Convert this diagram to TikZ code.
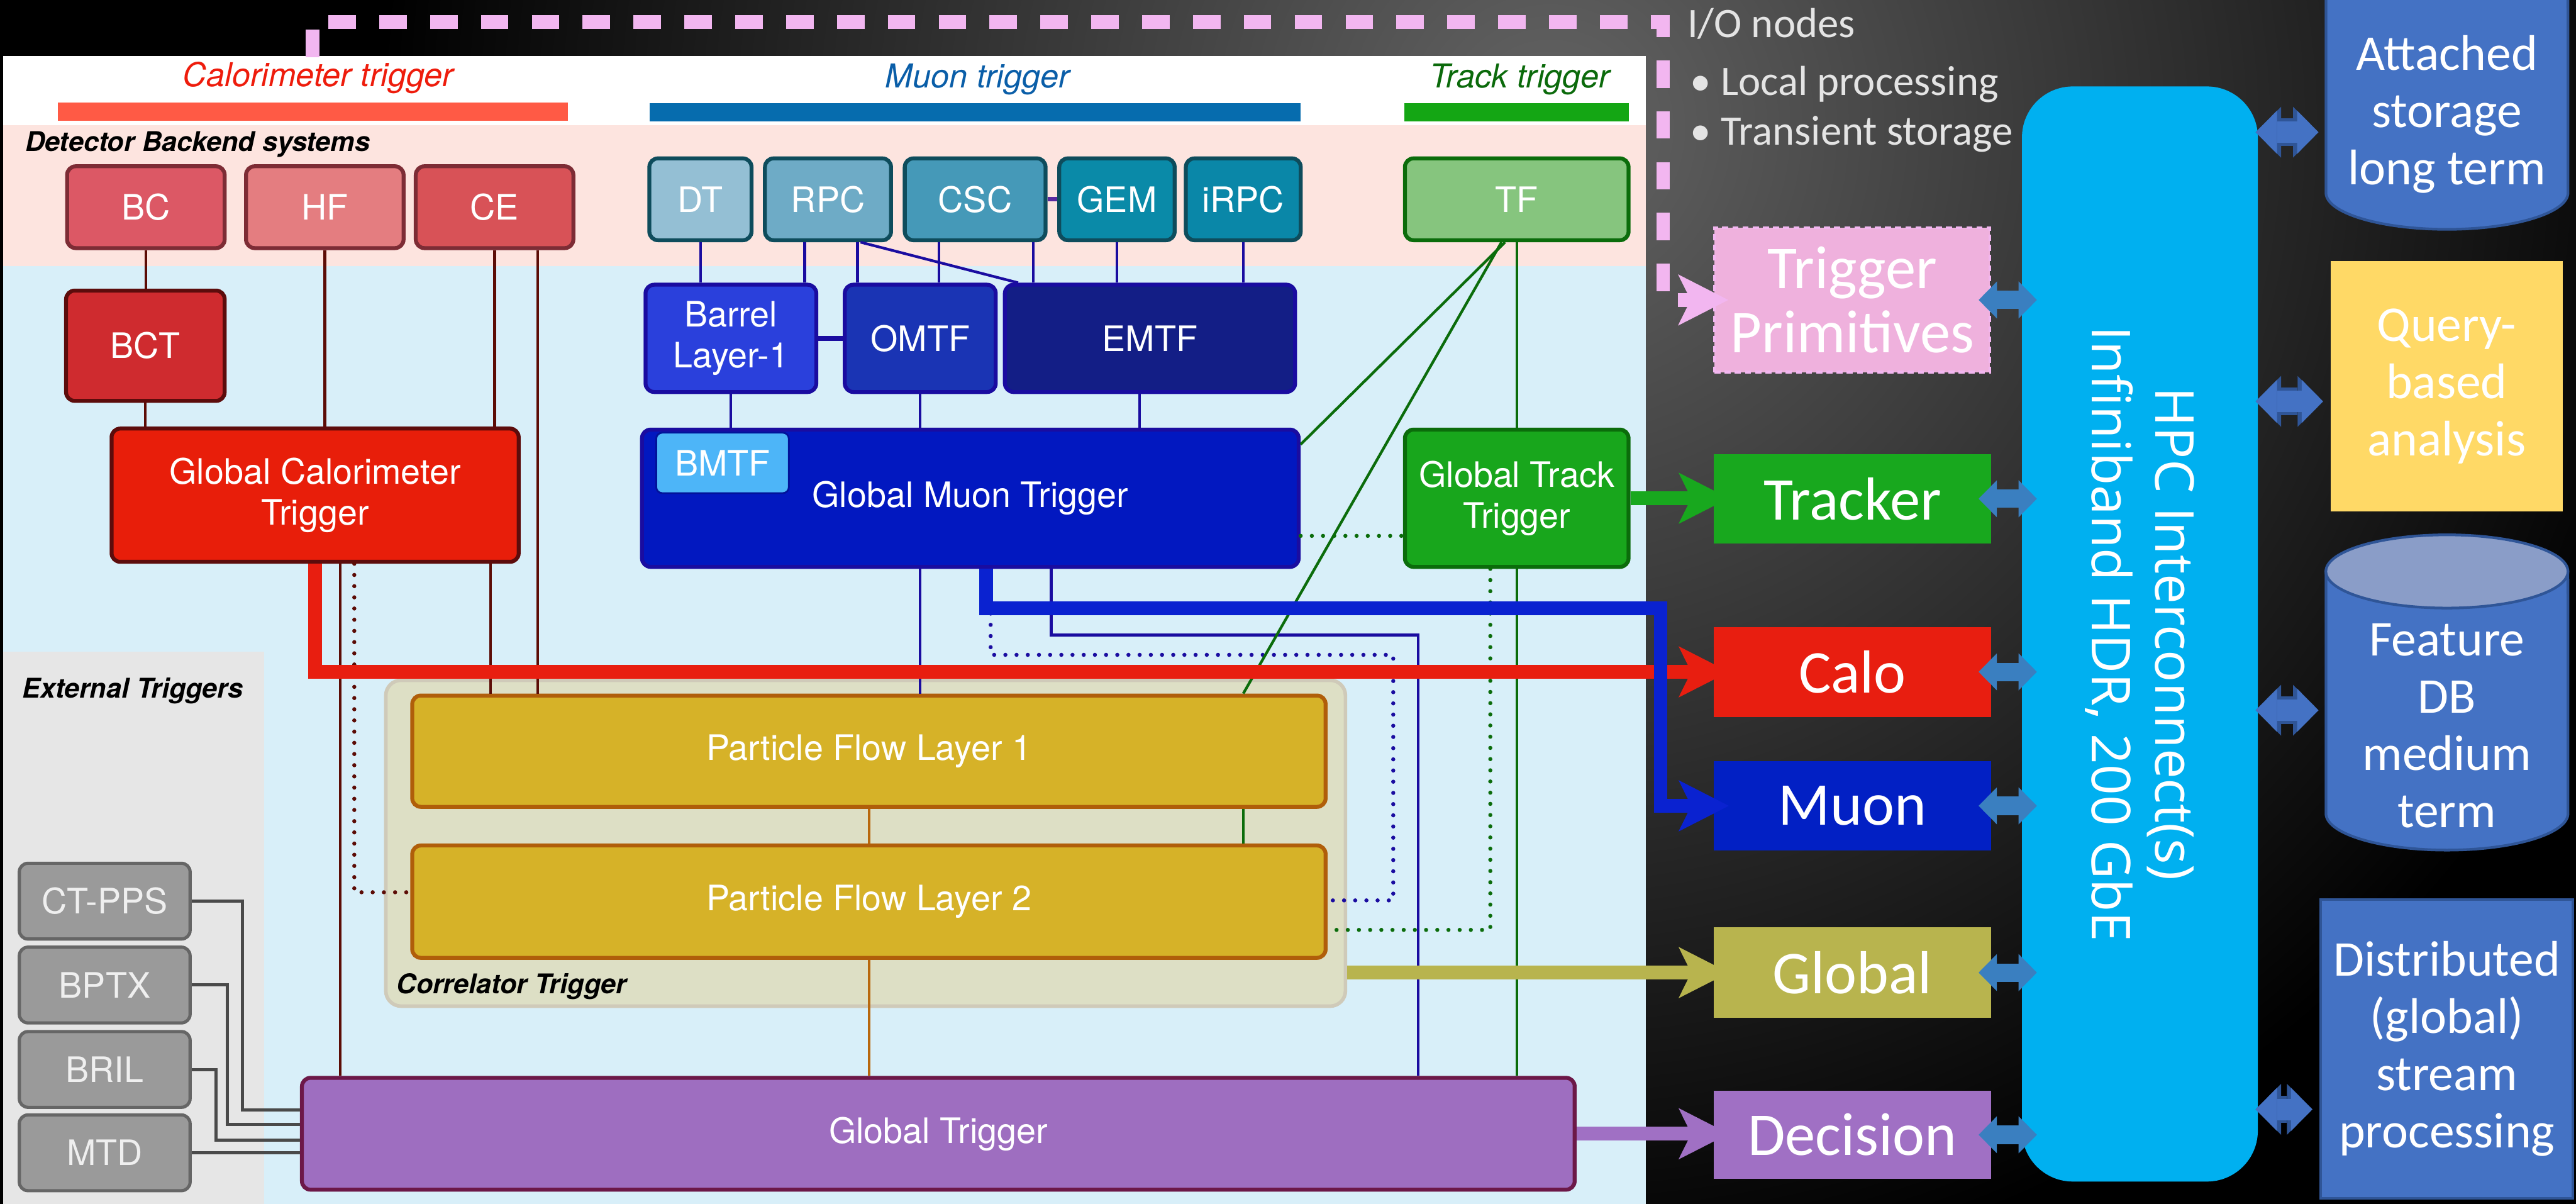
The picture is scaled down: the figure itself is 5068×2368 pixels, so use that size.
\documentclass[tikz,border=0pt]{standalone}
\usepackage{fontspec}
\setmainfont{TeX Gyre Heros}
\newfontfamily\iofont{Carlito}
\newfontfamily\netfont{Open Sans}
\usetikzlibrary{arrows.meta,calc}

% panel and band colours
\definecolor{bandpink}{HTML}{FDE4DF}
\definecolor{bandblue}{HTML}{D8EFF9}
\definecolor{extbg}{HTML}{E6E6E6}
\definecolor{bgglow}{HTML}{646464}
% group headings
\definecolor{calbar}{HTML}{FF5A45}
\definecolor{caltxt}{HTML}{EE1C0C}
\definecolor{muobar}{HTML}{066CAE}
\definecolor{muotxt}{HTML}{0A5EA8}
\definecolor{trkbar}{HTML}{14A614}
\definecolor{trktxt}{HTML}{0B6A0B}
% calorimeter chain
\definecolor{bcfill}{HTML}{DC5865}
\definecolor{hffill}{HTML}{E47D80}
\definecolor{cefill}{HTML}{D85257}
\definecolor{bcline}{HTML}{7D2C35}
\definecolor{bctfill}{HTML}{CF2B2F}
\definecolor{bctline}{HTML}{5C0C0C}
\definecolor{gctfill}{HTML}{E81E0A}
\definecolor{calowire}{HTML}{5C0C06}
% muon chain
\definecolor{dtfill}{HTML}{94BFD4}
\definecolor{rpcfill}{HTML}{6EABC6}
\definecolor{cscfill}{HTML}{4599B8}
\definecolor{gemfill}{HTML}{0A8AA8}
\definecolor{irpcfill}{HTML}{0A87A8}
\definecolor{detline}{HTML}{0E4C5C}
\definecolor{blfill}{HTML}{2A40DC}
\definecolor{omtffill}{HTML}{1A34B4}
\definecolor{emtffill}{HTML}{131E86}
\definecolor{muowire}{HTML}{1A0CA0}
\definecolor{gmtfill}{HTML}{0218C0}
\definecolor{bmtffill}{HTML}{4DB5F8}
\definecolor{linkpurple}{HTML}{5A2AA0}
% track chain
\definecolor{tffill}{HTML}{86C57E}
\definecolor{gttfill}{HTML}{18A61C}
\definecolor{trkwire}{HTML}{0B6C0B}
% correlator and global
\definecolor{corrfill}{HTML}{DDDFC5}
\definecolor{corrline}{HTML}{CFCAB9}
\definecolor{pffill}{HTML}{D6B228}
\definecolor{pfline}{HTML}{B05E0A}
\definecolor{pfwire}{HTML}{B8680E}
\definecolor{gtfill}{HTML}{9E6EC0}
\definecolor{gtline}{HTML}{6C1848}
% external triggers
\definecolor{extfill}{HTML}{9A9A9A}
\definecolor{extline}{HTML}{666666}
\definecolor{exttext}{HTML}{EFEFEF}
\definecolor{extwire}{HTML}{4A4A4A}
% I/O nodes and storage
\definecolor{tpfill}{HTML}{EFB1DD}
\definecolor{pinkline}{HTML}{F2B6F0}
\definecolor{trkio}{HTML}{18A81E}
\definecolor{caloio}{HTML}{E81E10}
\definecolor{muonio}{HTML}{0220C4}
\definecolor{muonfat}{HTML}{0A22D0}
\definecolor{globio}{HTML}{B8B44E}
\definecolor{decio}{HTML}{A070C4}
\definecolor{ldblc}{HTML}{3A7FC0}
\definecolor{hpcfill}{HTML}{00B0F0}
\definecolor{rdb}{HTML}{4472C4}
\definecolor{rdbdk}{HTML}{2F5597}
\definecolor{fdbtop}{HTML}{8A9DC8}
\definecolor{qryfill}{HTML}{FFD966}
\definecolor{iotext}{HTML}{E4E4E4}

\begin{document}
\begin{tikzpicture}[x=0.01cm, y=-0.01cm,
  wh/.style 2 args={minimum width=#1*0.01cm, minimum height=#2*0.01cm},
  box/.style={rectangle, rounded corners=0.17cm, line width=2.2pt, text=white,
    align=center, inner sep=0pt, font=\fontsize{19.6pt}{23pt}\selectfont},
  extbox/.style={box, fill=extfill, draw=extline, text=exttext, line width=1.8pt},
  grp/.style={anchor=base, inner sep=0pt, font=\itshape\fontsize{18.4pt}{22pt}\selectfont},
  sect/.style={anchor=base west, inner sep=0pt, text=black,
    font=\bfseries\itshape\fontsize{15.2pt}{18pt}\selectfont},
  iobox/.style={rectangle, inner sep=0pt, text=white, align=center,
    font=\iofont\fontsize{34pt}{36pt}\selectfont},
  store/.style={rectangle, inner sep=0pt, text=white, align=center,
    font=\iofont\fontsize{28pt}{32pt}\selectfont},
  note/.style={anchor=base west, inner sep=0pt, text=iotext,
    font=\iofont\fontsize{23.5pt}{28pt}\selectfont},
  wire/.style={line width=1.5pt},
  dots/.style={line width=2.3pt, line cap=round, dash pattern=on 0pt off 0.22cm},
  fat/.style={line width=0.27cm, shorten >=-0.3cm,
    -{Stealth[length=0.99cm,width=1.01cm,inset=0.25cm,line width=0pt]}},
  ldbl/.style={draw=ldblc, line width=0.36cm, shorten <=-0.25cm, shorten >=-0.3cm,
    {Triangle[length=0.36cm,width=0.73cm,line width=0pt]}-{Triangle[length=0.36cm,width=0.73cm,line width=0pt]}},
  rdbl/.style={draw=rdb, line width=0.42cm, shorten <=-0.05cm, shorten >=0.14cm,
    {Triangle[length=0.42cm,width=0.85cm,line width=0pt]}-{Triangle[length=0.42cm,width=0.85cm,line width=0pt]},
    preaction={draw=rdbdk, line width=0.54cm,
      {Triangle[length=0.5cm,width=1.0cm,line width=0pt]}-{Triangle[length=0.5cm,width=1.0cm,line width=0pt]}}},
]
\useasboundingbox (0,0) rectangle (5068,2368);

% ---------- dark backdrop with a soft glow ----------
\begin{scope}
  \clip (0,0) rectangle (5068,2368);
  \fill[black] (0,0) rectangle (5068,2368);
  \shade[inner color=bgglow, outer color=black] (3050,250) circle [radius=23cm];
\end{scope}

% ---------- trigger panel ----------
\fill[white]    (6,110) rectangle (3238,246);
\fill[bandpink] (6,246) rectangle (3238,523);
\fill[bandblue] (6,523) rectangle (3238,2368);
\fill[extbg]    (6,1282) rectangle (520,2368);

% group headings
\node[grp, text=caltxt] (calhead) at (626,170) {Calorimeter trigger};
\node[grp, text=muotxt] (muohead) at (1923,172) {Muon trigger};
\node[grp, text=trktxt] (trkhead) at (2990,172) {Track trigger};
\fill[calbar] (114,202) rectangle (1117,238);
\fill[muobar] (1278,203) rectangle (2559,239);
\fill[trkbar] (2763,203) rectangle (3204,239);
\node[sect] (dbs) at (49,298) {Detector Backend systems};
\node[sect] (exthead) at (43,1373) {External Triggers};

% calorimeter chain
\node[box, wh={310}{161}, fill=bcfill,  draw=bcline]  (bc)  at (287,407.5) {BC};
\node[box, wh={310}{161}, fill=hffill,  draw=bcline]  (hf)  at (639,407.5) {HF};
\node[box, wh={310}{161}, fill=cefill,  draw=bcline]  (ce)  at (973,407.5) {CE};
\node[box, wh={312}{217}, fill=bctfill, draw=bctline] (bct) at (286,680) {BCT};
\node[box, wh={801}{262}, fill=gctfill, draw=bctline] (gct) at (620,974) {Global Calorimeter\\Trigger};

% muon chain
\node[box, wh={201}{161}, fill=dtfill,   draw=detline] (dt)   at (1378,392) {DT};
\node[box, wh={248}{161}, fill=rpcfill,  draw=detline] (rpc)  at (1629,392) {RPC};
\node[box, wh={277}{161}, fill=cscfill,  draw=detline] (csc)  at (1918.5,392) {CSC};
\node[box, wh={227}{161}, fill=gemfill,  draw=detline] (gem)  at (2197.5,392) {GEM};
\node[box, wh={226}{161}, fill=irpcfill, draw=detline] (irpc) at (2446,392) {iRPC};
\node[box, wh={336}{211}, fill=blfill,   draw=muowire] (bl1)  at (1438,665.5) {Barrel\\Layer-1};
\node[box, wh={297}{211}, fill=omtffill, draw=muowire] (omtf) at (1810.5,665.5) {OMTF};
\node[box, wh={571}{211}, fill=emtffill, draw=muowire] (emtf) at (2262.5,665.5) {EMTF};
\node[box, wh={1292}{270}, fill=gmtfill, draw=muowire] (gmt)  at (1909,980) {Global Muon Trigger};
\node[box, wh={261}{119}, fill=bmtffill, draw=gmtfill!80!black, line width=1pt,
      rounded corners=0.12cm] (bmtf) at (1421.5,910.5) {BMTF};

% track chain
\node[box, wh={440}{161}, fill=tffill,  draw=trkwire] (tf)  at (2984,392) {TF};
\node[box, wh={440}{270}, fill=gttfill, draw=trkwire] (gtt) at (2984,980) {Global Track\\Trigger};

% correlator
\node[rectangle, rounded corners=0.3cm, wh={1888}{641}, fill=corrfill, draw=corrline,
      line width=2pt] (corr) at (1703,1658.5) {};
\node[sect] (corrhead) at (780,1954) {Correlator Trigger};
\node[box, wh={1797}{219}, fill=pffill, draw=pfline] (pf1) at (1709.5,1477.5) {Particle Flow Layer 1};
\node[box, wh={1797}{221}, fill=pffill, draw=pfline] (pf2) at (1709.5,1773.5) {Particle Flow Layer 2};

% global trigger
\node[box, wh={2504}{220}, fill=gtfill, draw=gtline] (gt) at (1846,2230) {Global Trigger};

% external triggers
\node[extbox, wh={336}{149}] (ctpps) at (206,1772.5) {CT-PPS};
\node[extbox, wh={336}{149}] (bptx)  at (206,1937.5) {BPTX};
\node[extbox, wh={336}{149}] (bril)  at (206,2103.5) {BRIL};
\node[extbox, wh={336}{149}] (mtd)   at (206,2267.5) {MTD};

% ---------- wires ----------
\coordinate (cebyp) at (1058,0);
\coordinate (gcpf)  at (965,0);
\coordinate (gcgt)  at (669,0);
\coordinate (gcdot) at (697,1755);
\begin{scope}[wire, draw=calowire]
  \draw (bc.south)  -- (bc.south |- bct.north);
  \draw (bct.south) -- (bct.south |- gct.north);
  \draw (hf.south)  -- (hf.south |- gct.north);
  \draw (ce.south)  -- (ce.south |- gct.north);
  \draw (cebyp |- ce.south)  -- (cebyp |- pf1.north);
  \draw (gcpf |- gct.south)  -- (gcpf |- pf1.north);
  \draw (gcgt |- gct.south)  -- (gcgt |- gt.north);
\end{scope}
\draw[dots, draw=calowire] (gcdot |- gct.south) -- (gcdot) -- (gcdot -| pf2.west);

\coordinate (r1) at (1583,0);
\coordinate (r2) at (1687,0);
\coordinate (c1) at (1847,0);
\coordinate (c2) at (2033,0);
\coordinate (emd) at (2003,0);
\coordinate (em2) at (2242,0);
\coordinate (gl1) at (2068,1249);
\coordinate (gl2) at (2790,1249);
\coordinate (md1) at (1949,1288);
\coordinate (md2) at (2741,1288);
\coordinate (md3) at (2741,1771);
\begin{scope}[wire, draw=muowire]
  \draw (dt.south) -- (dt.south |- bl1.north);
  \draw (r1 |- rpc.south) -- (r1 |- bl1.north);
  \draw (r2 |- rpc.south) -- (r2 |- omtf.north);
  \draw ([xshift=0.06cm]r2 |- rpc.south) -- (emd |- emtf.north);
  \draw (c1 |- csc.south) -- (c1 |- omtf.north);
  \draw (c2 |- csc.south) -- (c2 |- emtf.north);
  \draw (gem.south) -- (gem.south |- emtf.north);
  \draw (irpc.south) -- (irpc.south |- emtf.north);
  \draw (bl1.south) -- (bl1.south |- gmt.north);
  \draw (omtf.south) -- (omtf.south |- gmt.north);
  \draw (em2 |- emtf.south) -- (em2 |- gmt.north);
  \draw (omtf.south |- gmt.south) -- (omtf.south |- pf1.north);
  \draw (gl1 |- gmt.south) -- (gl1) -- (gl2) -- (gl2 |- gt.north);
\end{scope}
\draw[line width=2.4pt, draw=linkpurple] (csc.east) -- (gem.west);
\draw[line width=3pt, draw=muowire] (bl1.east) -- (omtf.west);
\draw[dots, draw=muowire] (md1 |- gmt.south) -- (md1) -- (md2) -- (md3) -- (md3 -| pf2.east);

\coordinate (t1) at (2961,0);
\coordinate (t2) at (2954,0);
\coordinate (tp1) at (2446,0);
\coordinate (gd0) at (0,1054);
\coordinate (gd1) at (2932,1829);
\begin{scope}[wire, draw=trkwire]
  \draw (tf.south) -- (tf.south |- gtt.north);
  \draw (t1 |- tf.south) -- ([yshift=-0.33cm]gmt.north east);
  \draw (t2 |- tf.south) -- (tp1 |- pf1.north);
  \draw (tp1 |- pf1.south) -- (tp1 |- pf2.north);
  \draw (gtt.south) -- (gtt.south |- gt.north);
\end{scope}
\draw[dots, draw=trkwire] (gmt.east |- gd0) -- (gtt.west |- gd0);
\draw[dots, draw=trkwire] (gd1 |- gtt.south) -- (gd1) -- (gd1 -| pf2.east);

\begin{scope}[wire, draw=pfwire]
  \draw (pf1.south) -- (pf2.north);
  \draw (pf2.south) -- (pf2.south |- gt.north);
\end{scope}

\coordinate (ec1) at (477,2183);
\coordinate (ec2) at (447,2212);
\coordinate (ec3) at (425,2243);
\begin{scope}[line width=1.8pt, draw=extwire]
  \draw (ctpps.east) -| (ec1) -- (ec1 -| gt.west);
  \draw (bptx.east)  -| (ec2) -- (ec2 -| gt.west);
  \draw (bril.east)  -| (ec3) -- (ec3 -| gt.west);
  \draw (mtd.east) -- (mtd.east -| gt.west);
\end{scope}

% ---------- I/O nodes ----------
\node[note] (ionodes) at (3319,73)  {I/O nodes};
\node[note] (iolocal) at (3325,187) {• Local processing};
\node[note] (iotrans) at (3325,285) {• Transient storage};

\node[iobox, wh={542}{284}, fill=tpfill, draw=pinkline, line width=1.6pt,
      dash pattern=on 0.12cm off 0.08cm] (tp) at (3644,590) {Trigger\\Primitives};
\node[iobox, wh={545}{176}, fill=trkio]   (tracker)  at (3644.5,981)    {Tracker};
\node[iobox, wh={545}{177}, fill=caloio]  (calo)     at (3644.5,1321.5) {Calo};
\node[iobox, wh={545}{176}, fill=muonio]  (muon)     at (3644.5,1585)   {Muon};
\node[iobox, wh={545}{178}, fill=globio]  (global)   at (3644.5,1913)   {Global};
\node[iobox, wh={545}{174}, fill=decio]   (decision) at (3644.5,2232)   {Decision};

% interconnect
\node[rectangle, rounded corners=1cm, wh={464}{2154}, fill=hpcfill, inner sep=0pt] (hpc) at (4210,1247) {};
\node[rotate=-90, text=white, align=center, inner sep=0pt,
      font=\netfont\fontsize{30pt}{35.5pt}\selectfont] (hpclbl) at (hpc)
      {HPC Interconnect(s)\\Infiniband HDR, 200 GbE};

% storage and analysis
\fill[draw=rdbdk, fill=rdb, line width=1.5pt]
  (4576,-20) -- (4576,379) arc[start angle=180, end angle=360, x radius=2.38cm, y radius=0.72cm]
  -- (5052,-20) -- cycle;
\node[store, wh={476}{420}] (att) at (4814,225) {Attached\\storage\\long term};

\node[store, wh={457}{493}, fill=qryfill] (qry) at (4813.5,759.5) {Query-\\based\\analysis};

\filldraw[draw=rdbdk, fill=rdb, line width=1.5pt]
  (4576,1124) -- (4576,1600) arc[start angle=180, end angle=360, x radius=2.38cm, y radius=0.72cm]
  -- (5052,1124) -- cycle;
\filldraw[draw=rdbdk, fill=fdbtop, line width=1.5pt] (4814,1124) ellipse [x radius=2.38cm, y radius=0.72cm];
\node[store, wh={476}{440}] (fdb) at (4814,1427) {Feature\\DB\\medium\\term};

\node[store, wh={496}{588}, fill=rdb, draw=rdbdk, line width=1.5pt] (dist) at (4814,2063)
  {Distributed\\(global)\\stream\\processing};

% ---------- thick data paths ----------
\coordinate (pk0) at (615,112);
\coordinate (pk1) at (615,43);
\coordinate (pk2) at (3272,43);
\draw[fat, draw=pinkline, dash pattern=on 0.54cm off 0.46cm] (pk0) -- (pk1) -- (pk2) |- (tp.west);

\draw[fat, draw=caloio] (gct.south) |- (calo.west);

\coordinate (mb)  at (1940,1196);
\coordinate (mb2) at (3267,1196);
\draw[fat, draw=muonfat] (mb |- gmt.south) -- (mb) -- (mb2) |- (muon.west);

\draw[fat, draw=trkio] (gtt.east) -- (gtt.east -| tracker.west);
\draw[fat, draw=globio] (corr.east |- global.west) -- (global.west);
\draw[fat, draw=decio] (gt.east) -- (gt.east -| decision.west);

% ---------- links to the interconnect ----------
\foreach \n in {tp,tracker,calo,muon,global,decision}
  \draw[ldbl] (\n.east) -- (\n.east -| hpc.west);

\coordinate (attport)  at ([yshift=-0.35cm]att.west);
\coordinate (qryport)  at ([yshift=-0.3cm]qry.west);
\coordinate (fdbport)  at ([yshift=0.3cm]fdb.west);
\coordinate (distport) at ([yshift=-1.19cm]dist.west);
\foreach \p in {attport,qryport,fdbport,distport}
  \draw[rdbl] (hpc.east |- \p) -- (\p);

\end{tikzpicture}
\end{document}
